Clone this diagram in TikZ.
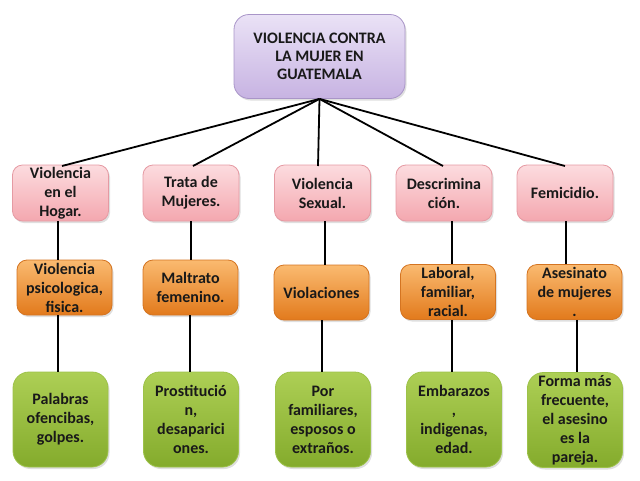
\documentclass[tikz,border=0pt]{standalone}
\usepackage{fontspec}
\setmainfont{Carlito}
\usetikzlibrary{positioning,shadows}

\definecolor{lilacTop}{HTML}{EAE2F6}
\definecolor{lilacBot}{HTML}{C7B3E2}
\definecolor{lilacLine}{HTML}{A995C8}
\definecolor{pinkTop}{HTML}{FCDCDF}
\definecolor{pinkBot}{HTML}{F4A7AF}
\definecolor{pinkLine}{HTML}{E59AA3}
\definecolor{orangeTop}{HTML}{FABA70}
\definecolor{orangeBot}{HTML}{E27A1C}
\definecolor{orangeLine}{HTML}{D47421}
\definecolor{greenTop}{HTML}{ADCF55}
\definecolor{greenBot}{HTML}{84AB2C}
\definecolor{greenLine}{HTML}{9DC24A}

\begin{document}
\begin{tikzpicture}[x=1pt, y=-1pt,
  box/.style={rounded corners=10pt, align=center, inner sep=1pt,
              font=\fontsize{16}{19}\selectfont\bfseries, text=black!90,
              line width=0.8pt,
              drop shadow={opacity=0.25, shadow xshift=1.5pt, shadow yshift=-2pt}},
  topbox/.style={box, draw=lilacLine, top color=lilacTop, bottom color=lilacBot,
                 minimum width=171pt, minimum height=84pt, rounded corners=15pt,
                 font=\fontsize{16}{18}\selectfont\bfseries},
  catbox/.style={box, draw=pinkLine, top color=pinkTop, bottom color=pinkBot,
                 minimum width=96pt, minimum height=56pt},
  kindbox/.style={box, draw=orangeLine, top color=orangeTop, bottom color=orangeBot,
                  minimum width=95pt, minimum height=55pt},
  factbox/.style={box, draw=greenLine, top color=greenTop, bottom color=greenBot,
                  minimum width=95pt, minimum height=95pt, rounded corners=16pt},
  link/.style={draw=black, line width=1.8pt}
]
  \useasboundingbox (0,0) rectangle (640,480);

  % title
  \node[topbox] (top) at (319.5,56.5)
    {VIOLENCIA CONTRA\\LA MUJER EN\\GUATEMALA};

  % links from the title (drawn first, under the boxes)
  \foreach \i/\xx in {1/62,2/193,3/318,4/443,5/565}
    \coordinate (in\i) at (\xx,166);

  % categories
  \node[catbox] (cat1) at (60.5,193) {Violencia\\en el\\Hogar.};
  \node[catbox] (cat2) at (191,193) {Trata de\\Mujeres.};
  \node[catbox] (cat3) at (322.5,193) {Violencia\\Sexual.};
  \node[catbox] (cat4) at (444,193) {Descrimina\\ción.};
  \node[catbox] (cat5) at (565,193) {Femicidio.};

  % kinds
  \node[kindbox] (kind1) at (64.5,287.5) {Violencia\\psicologica,\\fisica.};
  \node[kindbox] (kind2) at (190.5,287.5) {Maltrato\\femenino.};
  \node[kindbox] (kind3) at (321.5,292.5) {Violaciones};
  \node[kindbox] (kind4) at (448,292) {Laboral,\\familiar,\\racial.};
  \node[kindbox] (kind5) at (574.5,292) {Asesinato\\de mujeres\\.};

  % facts
  \node[factbox] (fact1) at (60.5,419.5) {Palabras\\ofencibas,\\golpes.};
  \node[factbox] (fact2) at (191,419.5) {Prostitució\\n,\\desaparici\\ones.};
  \node[factbox] (fact3) at (323,419.5) {Por\\familiares,\\esposos o\\extraños.};
  \node[factbox] (fact4) at (454,419.5) {Embarazos\\,\\indigenas,\\edad.};
  \node[factbox] (fact5) at (575,420) {Forma más\\frecuente,\\el asesino\\es la\\pareja.};

  \foreach \i in {1,...,5}
    \draw[link] (top.south) -- (in\i);

  \draw[link] (58,221) -- (kind1.north -| 58,0);
  \draw[link] (cat2.south -| 191,0) -- (kind2.north -| 191,0);
  \draw[link] (cat3.south -| 325,0) -- (kind3.north -| 325,0);
  \draw[link] (cat4.south -| 452,0) -- (kind4.north -| 452,0);
  \draw[link] (cat5.south -| 566,0) -- (kind5.north -| 566,0);

  \draw[link] (kind1.south -| 58,0) -- (fact1.north -| 58,0);
  \draw[link] (kind2.south -| 190,0) -- (fact2.north -| 190,0);
  \draw[link] (kind3.south -| 322,0) -- (fact3.north -| 322,0);
  \draw[link] (kind4.south -| 452,0) -- (fact4.north -| 452,0);
  \draw[link] (kind5.south -| 577,0) -- (fact5.north -| 577,0);
\end{tikzpicture}
\end{document}
